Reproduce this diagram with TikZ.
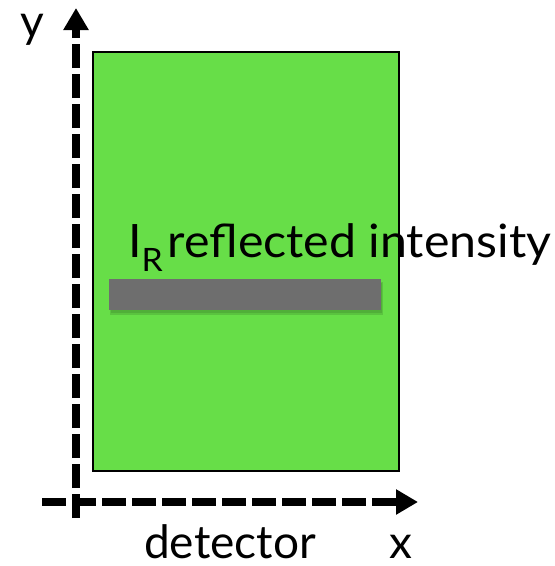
\documentclass[tikz,border=0pt]{standalone}
\usepackage{fontspec}
\setmainfont{Lato}
\usetikzlibrary{arrows.meta}
\definecolor{panelgreen}{RGB}{103,222,72}
\definecolor{bargray}{RGB}{110,110,110}
\tikzset{
  axis/.style={line width=8pt, dash pattern=on 24pt off 6pt,
    -{Triangle[length=22pt,width=24pt]}},
  lbl/.style={inner sep=0pt, font=\fontsize{46}{50}\selectfont},
}
\begin{document}
\begin{tikzpicture}[x=1pt,y=-1pt]
\useasboundingbox (0,0) rectangle (555,566);
% detector panel
\node[draw=black, line width=1.5pt, fill=panelgreen, minimum width=306pt, minimum height=419pt, inner sep=0pt, anchor=north west] (panel) at (92,51) {};
% gray bar with soft shadow
\fill[black, opacity=0.12] (110,282) rectangle (383,315);
\fill[black, opacity=0.10] (111,283) rectangle (382,313);
\node[fill=bargray, minimum width=272pt, minimum height=31pt, inner sep=0pt, anchor=north west] (bar) at (109,279) {};
% label
\node[lbl, anchor=base west] (ir) at (128,257) {\scalebox{1.05}[1]{I\textsubscript{R}\hspace{4pt}reflected intensity}};
% axes
\coordinate (yb) at (76,518);
\coordinate (yt) at (76,8);
\coordinate (xl) at (42,502);
\coordinate (xr) at (418,502);
\draw[axis] (yb) -- (yt);
\draw[axis] (xl) -- (xr);
\node[lbl, anchor=base] (ylab) at (32,37) {y};
\node[lbl, anchor=base, text depth=0pt] (det) at (230,558) {detector};
\node[lbl, anchor=base, text depth=0pt] (xlab) at (401,558) {x};
\end{tikzpicture}
\end{document}
